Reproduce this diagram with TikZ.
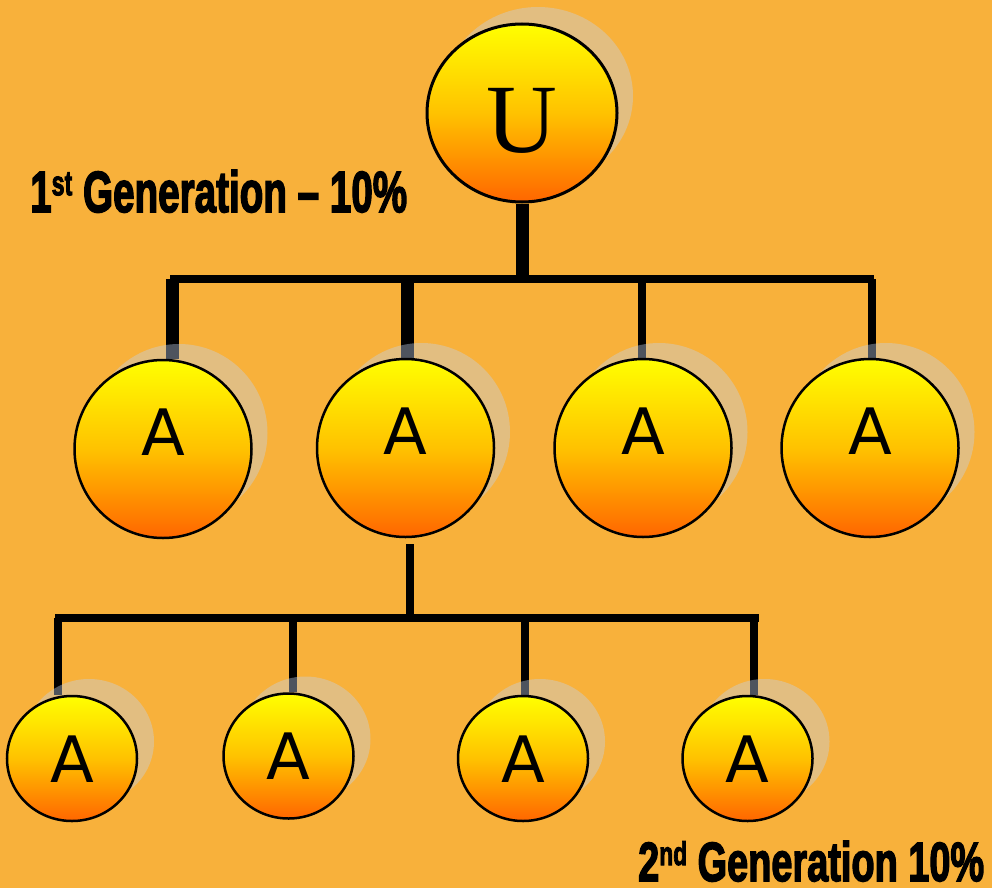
\documentclass[tikz,border=0pt]{standalone}
\usepackage{fontspec}
\usepackage{graphicx}
\usetikzlibrary{shapes.geometric}

\newfontfamily\genfont{Liberation Sans}[BoldFeatures={FakeBold=3}]
\newfontfamily\ballfont{DejaVu Sans}
\newfontfamily\ufont{Liberation Serif}

\definecolor{pageorange}{RGB}{248,177,59}
\definecolor{shadowgray}{RGB}{195,210,235}
\definecolor{balltop}{RGB}{255,255,0}
\definecolor{ballmid}{RGB}{255,194,0}
\definecolor{ballbot}{RGB}{255,102,0}

\pgfdeclarelayer{bg}
\pgfdeclarelayer{wires}
\pgfdeclarelayer{halo}
\pgfsetlayers{bg,wires,halo,main}

\newcommand{\genlabel}[3]{\resizebox{#1}{#2}{\genfont\bfseries #3}}

\begin{document}
\begin{tikzpicture}[x=1pt, y=-1pt,
	usize/.style={minimum width=190pt, minimum height=178pt},
	asize/.style={minimum width=177pt, minimum height=178pt},
	bsize/.style={minimum width=130pt, minimum height=125pt},
	ball/.style={ellipse, draw=black, line width=2.5pt, inner sep=0pt, top color=balltop, bottom color=ballbot, middle color=ballmid},
	bigball/.style={ball, usize, line width=3pt, font=\ufont\fontsize{98}{98}\selectfont, text height=78pt, text depth=0pt},
	midball/.style={ball, asize, font=\ballfont\fontsize{64}{64}\selectfont, text height=47pt, text depth=34pt},
	smallball/.style={ball, bsize, font=\ballfont\fontsize{64}{64}\selectfont, text height=47pt, text depth=0pt},
	halo/.style={ellipse, fill=shadowgray, fill opacity=0.4, inner sep=0pt},
	thickwire/.style={line width=13pt},
	wire/.style={line width=8pt}]
	\useasboundingbox (0,0) rectangle (992,888);
	\begin{pgfonlayer}{bg}
		\fill[pageorange] (0,0) rectangle (992,888);
	\end{pgfonlayer}

	% the people
	\node[bigball](u) at (522,113){U};
	\node[midball](a1) at (163,449){A};
	\node[midball](a2) at (405.5,448){A};
	\node[midball](a3) at (643,448){A};
	\node[midball](a4) at (870,448){A};
	\node[smallball](b1) at (72,758.5){A};
	\node[smallball](b2) at (288.5,756){A};
	\node[smallball](b3) at (523,758.5){A};
	\node[smallball](b4) at (747.5,758.5){A};

	% shadows behind them
	\begin{pgfonlayer}{halo}
		\node[halo, usize](uShadow) at ([shift={(16,-17)}]u.center){};
		\node[halo, asize](a1Shadow) at ([shift={(16,-16)}]a1.center){};
		\node[halo, asize](a2Shadow) at ([shift={(16,-16)}]a2.center){};
		\node[halo, asize](a3Shadow) at ([shift={(16,-16)}]a3.center){};
		\node[halo, asize](a4Shadow) at ([shift={(16,-16)}]a4.center){};
		\node[halo, bsize](b1Shadow) at ([shift={(17,-17)}]b1.center){};
		\node[halo, bsize](b2Shadow) at ([shift={(17,-17)}]b2.center){};
		\node[halo, bsize](b3Shadow) at ([shift={(17,-17)}]b3.center){};
		\node[halo, bsize](b4Shadow) at ([shift={(17,-17)}]b4.center){};
	\end{pgfonlayer}

	% the tree lines
	\begin{pgfonlayer}{wires}
		\coordinate(bar1L) at (170,279);
		\coordinate(bar1R) at (874,279);
		\coordinate(bar2L) at (55,617.5);
		\coordinate(bar2R) at (759,617.5);
		\draw[thickwire] (u.south) -- (u.south |- bar1L);
		\draw[wire] (bar1L) -- (bar1R);
		\draw[thickwire] ([xshift=9.5pt]a1.north) -- ([xshift=9.5pt]a1.north |- bar1L);
		\draw[thickwire] ([xshift=2pt]a2.north) -- ([xshift=2pt]a2.north |- bar1L);
		\draw[wire] ([xshift=-1pt]a3.north) -- ([xshift=-1pt]a3.north |- bar1L);
		\draw[wire] ([xshift=1.5pt]a4.north) -- ([xshift=1.5pt]a4.north |- bar1L);
		\draw[wire, shorten <=6pt] ([xshift=4.5pt]a2.south) -- ([xshift=4.5pt]a2.south |- bar2L);
		\draw[wire] (bar2L) -- (bar2R);
		\draw[wire] ([xshift=-14pt]b1.north) -- ([xshift=-14pt]b1.north |- bar2L);
		\draw[wire] ([xshift=4.5pt]b2.north) -- ([xshift=4.5pt]b2.north |- bar2L);
		\draw[wire] ([xshift=2pt]b3.north) -- ([xshift=2pt]b3.north |- bar2L);
		\draw[wire] ([xshift=6.5pt]b4.north) -- ([xshift=6.5pt]b4.north |- bar2L);
	\end{pgfonlayer}

	% generation labels
	\node[anchor=base west, inner sep=0pt](gen1Label) at (30,212){\genlabel{377pt}{42pt}{1\raisebox{2.9pt}{\fontsize{6}{6}\selectfont st} Generation – 10\%}};
	\node[anchor=base west, inner sep=0pt](gen2Label) at (638,881){\genlabel{346pt}{40pt}{2\raisebox{2.9pt}{\fontsize{6}{6}\selectfont nd} Generation 10\%}};
\end{tikzpicture}
\end{document}
